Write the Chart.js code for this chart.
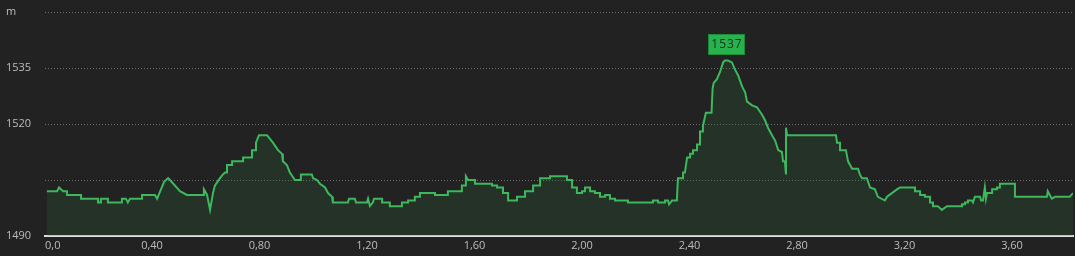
<!DOCTYPE html>
<html>
<head>
<meta charset="utf-8">
<script src="https://cdn.jsdelivr.net/npm/chart.js@4/dist/chart.umd.min.js"></script>
<style>
  html, body { margin: 0; padding: 0; background: #222222; }
  #wrap { width: 1075px; height: 256px; }
</style>
</head>
<body>
<div id="wrap"><canvas id="c" width="1075" height="256"></canvas></div>
<script>
// ---- data (distance in km, elevation in m) ----
const distanceKm = [
  0.009,0.047,0.054,0.069,0.084,0.084,0.136,0.136,0.199,0.199,0.210,0.210,0.236,0.236,0.288,0.288,0.303,0.310,0.318,0.363,
  0.363,0.411,0.419,0.445,0.460,0.467,0.504,0.530,0.590,0.593,0.605,0.616,0.627,0.634,0.653,0.664,0.672,0.679,0.679,0.698,
  0.698,0.739,0.739,0.772,0.772,0.787,0.787,0.798,0.828,0.850,0.869,0.884,0.887,0.902,0.913,0.932,0.951,0.954,0.995,0.999,
  1.014,1.025,1.044,1.055,1.070,1.073,1.129,1.133,1.155,1.159,1.200,1.204,1.211,1.222,
  1.226,1.256,1.256,1.285,1.285,1.330,1.330,1.353,1.353,1.378,1.378,1.397,1.397,1.453,1.453,1.501,1.501,1.553,1.553,1.565,
  1.568,1.576,1.602,1.602,1.665,1.665,1.684,1.684,1.706,1.706,1.725,1.725,1.758,1.758,1.788,1.788,1.818,1.818,1.844,1.844,
  1.881,1.881,1.944,1.944,1.963,1.963,1.981,1.981,2.000,2.000,2.011,2.011,2.030,2.030,2.048,2.048,2.067,2.067,2.086,2.086,
  2.104,2.104,2.123,2.123,2.171,2.171,2.264,2.264,2.283,2.283,2.309,2.309,2.320,2.324,2.335,2.353,
  2.357,2.376,2.376,2.383,2.391,2.402,2.402,2.413,2.413,2.428,2.428,2.439,2.439,2.450,2.450,2.461,2.482,2.486,2.490,2.502,
  2.514,2.525,2.532,2.543,2.558,2.570,2.581,2.596,2.607,2.614,2.633,2.651,2.670,2.681,2.692,2.707,2.719,2.730,2.744,2.748,
  2.755,2.759,2.759,2.763,2.945,
  2.949,2.960,2.960,2.982,2.990,3.005,3.027,3.034,3.042,3.060,3.072,3.090,3.101,3.127,3.135,3.172,3.183,3.239,3.239,3.258,
  3.258,3.276,3.276,3.295,3.295,3.306,3.306,3.324,3.339,3.358,3.414,3.414,3.425,3.425,3.436,3.436,3.451,3.455,3.462,3.481,
  3.485,3.492,3.499,3.503,3.507,3.526,3.526,3.544,3.544,3.555,3.555,3.611,3.611,3.730,3.733,3.748,3.760,3.815,3.827
];
const elevationM = [
  1502,1502,1503,1502,1502,1501,1501,1500,1500,1499,1499,1500,1500,1499,1499,1500,1500,1499,1500,1500,
  1501,1501,1500,1504.5,1505.5,1505,1502,1501,1501,1502.5,1501,1497,1501.5,1503.5,1505.5,1506.5,1507,1507,1509,1509,
  1510,1510,1511,1511,1513,1513,1515,1517,1517,1515,1513,1512,1510,1509,1507,1505,1505,1506.5,1506.5,1505.5,
  1505,1504,1503,1501.5,1500.5,1499,1499,1500,1500,1499,1499,1500,1498,1499,
  1500,1500,1499,1499,1498,1498,1499,1499,1499.5,1499.5,1500.5,1500.5,1501.5,1501.5,1501,1501,1502,1502,1503.5,1503.5,
  1506,1505,1505,1504,1504,1503.5,1503.5,1503,1503,1501.5,1501.5,1499.5,1499.5,1500.5,1500.5,1502,1502,1503.5,1503.5,1505.5,
  1505.5,1506,1506,1505,1505,1503,1503,1501.5,1501.5,1502,1502,1503,1503,1502,1502,1501.5,1501.5,1500.5,1500.5,1501,
  1501,1500,1500,1499.5,1499.5,1499,1499,1499.5,1499.5,1499,1499,1499.5,1499.5,1498.5,1499.5,1499.5,
  1505.5,1505.5,1507,1507,1511,1511,1512,1512,1513,1513,1514.5,1514.5,1518,1518,1519.5,1523,1523,1529.5,1531,1532,
  1534,1536.5,1537,1537,1536.5,1534.5,1533,1530,1528.5,1526,1525,1524.5,1522.5,1521,1519,1517,1515.5,1513,1512.5,1510,
  1510,1506.5,1519,1517,1517,
  1515,1515,1513,1513,1510,1508,1508,1506.5,1505.5,1505.5,1503,1502.5,1500.5,1499.5,1500.5,1502.5,1503,1503,1502,1502,
  1501,1501,1500.5,1500.5,1499,1499,1498,1498,1497,1498,1498,1498.5,1498.5,1499,1499,1499.5,1499.5,1499,1500.5,1500.5,
  1499.5,1499.5,1503,1500,1501.5,1501.5,1502.5,1502.5,1503,1503,1504,1504,1500.5,1500.5,1502,1500,1500.5,1500.5,1501.5
];
const xTickValues = [0, 0.4, 0.8, 1.2, 1.6, 2.0, 2.4, 2.8, 3.2, 3.6];
const yTickValues = [1490, 1505, 1520, 1535, 1550];
const yTickLabels = ['1490', '', '1520', '1535', 'm'];
const xMin = 0, xMax = 3.827, yMin = 1490, yMax = 1550;

const points = distanceKm.map((d, i) => ({ x: d, y: elevationM[i] }));

const peakLabel = {
  id: 'peakLabel',
  afterDatasetsDraw(chart) {
    const maxV = Math.max(...elevationM);
    const idx = [];
    elevationM.forEach((v, i) => { if (v === maxV) idx.push(i); });
    const xs = chart.scales.x, ys = chart.scales.y;
    const px = (xs.getPixelForValue(distanceKm[idx[0]]) + xs.getPixelForValue(distanceKm[idx[idx.length - 1]])) / 2;
    const py = ys.getPixelForValue(maxV);
    const ctx = chart.ctx;
    const w = 37, h = 21;
    const bx = Math.round(px - w / 2), by = Math.round(py - 6 - h);
    ctx.save();
    ctx.fillStyle = '#27b24d';
    ctx.fillRect(bx, by, w, h);
    ctx.strokeStyle = '#1d8a3a';
    ctx.lineWidth = 1;
    ctx.strokeRect(bx + 0.5, by + 0.5, w - 1, h - 1);
    ctx.fillStyle = '#17301d';
    ctx.font = '12px "Open Sans", sans-serif';
    try { ctx.letterSpacing = '1px'; } catch (e) {}
    ctx.textAlign = 'center';
    ctx.textBaseline = 'middle';
    ctx.fillText(String(Math.round(maxV)), bx + w / 2 + 0.5, by + h / 2 + 0.5);
    ctx.restore();
  }
};

new Chart(document.getElementById('c'), {
  type: 'line',
  data: {
    datasets: [{
      data: points,
      borderColor: '#3db85d',
      borderWidth: 2,
      backgroundColor: 'rgba(46, 110, 58, 0.22)',
      fill: 'start',
      pointRadius: 0,
      tension: 0
    }]
  },
  options: {
    responsive: false,
    animation: false,
    devicePixelRatio: 1,
    layout: { padding: { left: 6, top: 12, right: 2, bottom: 0 } },
    plugins: { legend: { display: false }, tooltip: { enabled: false } },
    scales: {
      x: {
        type: 'linear',
        min: xMin, max: xMax,
        afterBuildTicks(scale) { scale.ticks = xTickValues.map(v => ({ value: v })); },
        afterFit(scale) { scale.height = 20; },
        grid: { display: false, drawTicks: false },
        border: { display: true, color: '#dedede', width: 2 },
        ticks: {
          color: '#bdbdbd',
          font: { family: '"Open Sans", sans-serif', size: 11 },
          padding: 3,
          maxRotation: 0,
          autoSkip: false,
          callback: (v) => v === 0 ? '\u2002\u2002\u20020,0' : v.toFixed(2).replace('.', ',')
        }
      },
      y: {
        min: yMin, max: yMax,
        afterBuildTicks(scale) { scale.ticks = yTickValues.map(v => ({ value: v })); },
        afterFit(scale) { scale.width = 38.5; },
        grid: {
          drawTicks: false,
          color: (ctx) => ctx.tick && ctx.tick.value === yMin ? 'rgba(0,0,0,0)' : '#6b6b6b',
          lineWidth: 1
        },
        border: { display: false, dash: [1, 2] },
        ticks: {
          color: '#bdbdbd',
          font: { family: '"Open Sans", sans-serif', size: 11 },
          crossAlign: 'far',
          padding: 0,
          autoSkip: false,
          callback: (v) => {
            const i = yTickValues.indexOf(v);
            return i >= 0 ? yTickLabels[i] : '';
          }
        }
      }
    }
  },
  plugins: [peakLabel]
});
</script>
</body>
</html>
